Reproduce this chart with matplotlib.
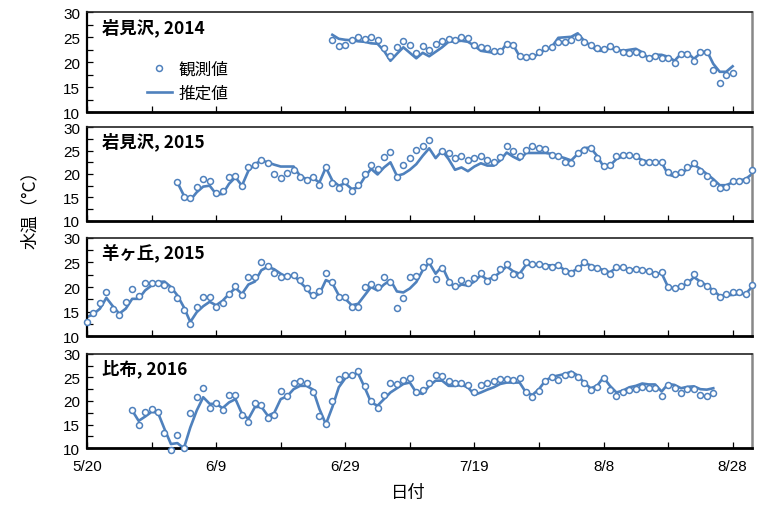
import numpy as np
import matplotlib
matplotlib.use("Agg")
import matplotlib.pyplot as plt
from matplotlib.ticker import MultipleLocator

plt.rcParams["font.family"] = ["Liberation Sans", "Noto Sans CJK JP", "DejaVu Sans"]
JP = ["Noto Sans CJK JP", "DejaVu Sans"]

BLUE = "#4F81BD"

# x axis: days since 5/20
XTICK_LABELS = ["5/20", "6/9", "6/29", "7/19", "8/8", "8/28"]

TITLES = ["岩見沢, 2014", "岩見沢, 2015", "羊ヶ丘, 2015", "比布, 2016"]

# first day (days after 5/20) of each record
START_2014 = 38
START_2015 = 14
START_HITSUJI = 0
START_2016 = 7

OBS_2014 = [24.4, 23.3, 23.5, 24.5, 25.0, 24.7, 25.1, 24.4, 22.9, 21.3,
            23.1, 24.3, 23.5, 21.8, 23.2, 22.5, 23.6, 24.2, 24.6, 24.5,
            25.1, 24.9, 23.5, 23.1, 22.9, 22.3, 22.2, 23.7, 23.5, 21.2,
            21.0, 21.2, 22.1, 22.9, 23.1, 24.1, 24.1, 24.4, 25.0, 24.0,
            23.5, 22.8, 22.7, 23.3, 22.7, 22.1, 21.9, 22.0, 21.7, 20.8,
            21.3, 20.8, 20.8, 19.9, 21.7, 21.6, 20.3, 22.0, 22.1, 18.5,
            15.9, 17.5, 17.8]
EST_2014 = [25.5, 24.7, 24.5, 24.4, 24.2, 24.1, 23.8, 23.7, 22.3, 20.3,
            21.7, 23.0, 21.9, 20.8, 21.9, 21.2, 22.1, 23.0, 24.1, 24.2,
            24.3, 24.1, 23.3, 22.3, 22.1, 21.9, 21.9, 23.8, 23.5, 21.2,
            21.0, 20.9, 21.8, 22.5, 23.1, 24.9, 25.0, 25.1, 25.8, 24.3,
            23.3, 22.3, 22.3, 22.8, 22.5, 22.3, 22.5, 22.7, 22.0, 20.7,
            21.5, 21.5, 21.1, 20.3, 21.7, 21.9, 20.7, 21.8, 22.3, 19.7,
            18.1, 18.1, 19.2]

OBS_2015 = [18.2, 15.0, 14.8, 17.3, 18.9, 18.4, 16.0, 16.3, 19.4, 19.6,
            17.4, 21.6, 22.0, 22.9, 22.3, 20.0, 19.1, 20.3, 20.9, 19.3,
            18.8, 19.4, 17.7, 21.6, 18.1, 17.0, 18.4, 16.4, 17.6, 20.0,
            22.0, 21.0, 23.6, 24.8, 19.4, 22.0, 23.4, 25.1, 26.1, 27.2,
            np.nan, 25.0, 24.5, 23.4, 23.8, 22.9, 23.4, 23.9, 23.1, 22.6,
            23.7, 25.9, 24.9, 23.9, 25.1, 25.9, 25.6, 25.4, 24.1, 23.8,
            22.6, 22.3, 24.4, 25.2, 25.5, 23.5, 21.8, 22.0, 23.9, 24.1,
            24.0, 23.9, 22.6, 22.6, 22.6, 22.6, 20.4, 20.0, 20.4, 21.4,
            22.4, 20.7, 19.6, 18.1, 16.9, 17.3, 18.4, 18.4, 18.7, 20.9]
EST_2015 = [18.2, 15.4, 14.4, 16.1, 17.3, 17.5, 15.7, 15.7, 17.9, 19.3,
            17.5, 20.7, 22.1, 22.9, 22.5, 22.0, 21.6, 21.6, 21.6, 19.6,
            18.9, 19.1, 18.2, 21.4, 18.6, 17.5, 18.0, 16.8, 17.1, 19.3,
            21.1, 19.9, 21.4, 22.5, 19.6, 20.0, 20.9, 22.1, 23.9, 25.5,
            23.4, 25.0, 23.2, 20.9, 21.4, 20.6, 21.6, 22.3, 21.8, 21.8,
            22.9, 24.6, 23.7, 23.0, 24.5, 24.5, 24.5, 24.5, 24.3, 23.8,
            23.4, 22.9, 24.3, 25.6, 25.6, 23.9, 21.6, 21.8, 23.2, 23.8,
            23.9, 23.7, 23.0, 22.6, 22.5, 22.5, 19.9, 19.5, 20.0, 21.1,
            22.0, 21.1, 20.0, 18.9, 17.6, 17.6, 18.2, 18.6, 18.9, 20.0]

OBS_HITSUJI = [13.0, 14.7, 16.8, 18.9, 15.6, 14.3, 17.0, 19.5, 18.2, 20.9,
               20.9, 20.9, 20.5, 19.5, 17.7, 15.4, 12.4, 15.9, 18.0, 18.0,
               15.9, 16.8, 18.6, 20.3, 18.3, 22.0, 22.0, 25.1, 24.2, 22.8,
               22.0, 22.2, 22.5, 21.4, 19.8, 18.3, 19.1, 22.8, 21.0, 18.0,
               18.0, 15.9, 15.9, 19.9, 20.7, 20.0, 22.0, 21.1, 15.8, 17.8,
               22.1, 22.2, 24.1, 25.2, 21.6, 23.9, 21.0, 20.3, 21.4, 20.8,
               21.9, 22.8, 21.2, 22.0, 23.6, 24.7, 22.7, 22.4, 25.1, 24.6,
               24.7, 24.2, 24.1, 24.4, 23.2, 22.8, 23.9, 25.1, 24.1, 23.9,
               23.2, 22.7, 24.1, 24.1, 23.4, 23.7, 23.4, 23.2, 22.7, 23.0,
               20.0, 19.8, 20.3, 21.0, 22.6, 20.8, 20.3, 19.2, 18.0, 18.5,
               18.9, 18.9, 18.5, 20.5]
EST_HITSUJI = [13.9, 14.5, 15.6, 17.8, 16.1, 14.6, 15.6, 17.6, 17.6, 19.3,
               20.3, 21.0, 21.1, 20.0, 18.3, 15.9, 12.9, 14.9, 16.1, 17.0,
               16.3, 17.2, 18.6, 19.8, 18.6, 20.5, 21.1, 23.4, 24.1, 23.6,
               22.7, 22.0, 22.4, 21.0, 19.7, 18.0, 18.6, 21.4, 20.8, 18.3,
               17.6, 16.3, 16.6, 18.3, 20.0, 19.3, 20.5, 21.4, 19.1, 18.9,
               19.7, 21.0, 23.4, 24.9, 22.7, 24.2, 21.4, 19.7, 20.5, 20.3,
               21.1, 22.4, 21.5, 22.0, 23.0, 24.2, 23.2, 22.7, 24.5, 24.5,
               24.5, 24.4, 24.4, 24.4, 23.4, 23.0, 23.7, 24.9, 24.4, 23.9,
               23.4, 23.0, 23.9, 23.9, 23.5, 23.6, 23.4, 23.2, 22.7, 22.8,
               20.0, 19.7, 20.0, 20.7, 22.0, 21.1, 20.3, 19.3, 18.2, 18.3,
               18.4, 18.6, 18.6, 20.0]

OBS_2016 = [18.0, 14.9, 17.7, 18.4, 17.7, 13.2, 9.7, 12.9, 10.0, 17.4,
            20.8, 22.7, 18.5, 19.6, 18.1, 21.2, 21.3, 17.1, 15.5, 19.6,
            19.2, 16.5, 17.1, 22.2, 21.0, 23.7, 24.3, 23.7, 22.0, 16.8,
            15.1, 20.1, 24.7, 25.6, 25.6, 26.4, 23.2, 20.1, 18.5, 21.3,
            23.9, 23.6, 24.5, 24.9, 22.0, 22.4, 23.9, 25.6, 25.3, 24.2,
            23.9, 23.9, 23.3, 22.0, 23.3, 23.7, 24.2, 24.6, 24.6, 24.4,
            24.8, 22.0, 20.8, 22.2, 24.3, 25.1, 24.5, 25.4, 25.8, 25.0,
            23.7, 22.4, 23.0, 24.9, 22.3, 21.1, 21.8, 22.3, 22.5, 23.0,
            22.7, 22.8, 21.1, 23.3, 22.8, 21.6, 22.5, 22.5, 21.3, 21.0,
            21.6]
EST_2016 = [18.0, 15.8, 16.7, 17.7, 17.5, 14.1, 10.9, 11.1, 10.0, 14.4,
            18.0, 20.8, 19.4, 19.4, 18.5, 19.7, 20.4, 17.3, 16.2, 18.7,
            18.8, 16.9, 17.5, 20.4, 21.0, 22.5, 23.2, 23.2, 22.4, 18.3,
            15.1, 18.7, 22.9, 24.8, 25.5, 25.8, 22.9, 19.7, 19.0, 20.4,
            21.8, 22.7, 23.6, 23.9, 21.8, 21.5, 23.2, 24.3, 24.3, 23.2,
            23.2, 23.4, 22.9, 21.3, 21.8, 22.4, 22.9, 23.6, 23.9, 23.9,
            23.9, 21.8, 21.3, 22.5, 24.3, 25.1, 25.4, 25.7, 26.2, 25.4,
            23.9, 22.7, 23.2, 25.0, 23.2, 21.8, 22.2, 22.9, 23.2, 23.7,
            23.5, 23.5, 22.0, 23.6, 23.4, 22.7, 23.0, 23.1, 22.5, 22.4,
            22.7]

PANELS = [
    (START_2014, OBS_2014, EST_2014),
    (START_2015, OBS_2015, EST_2015),
    (START_HITSUJI, OBS_HITSUJI, EST_HITSUJI),
    (START_2016, OBS_2016, EST_2016),
]

W, H = 767, 506
fig = plt.figure(figsize=(W / 100, H / 100), dpi=100)

# (top, bottom) pixel rows of each panel frame
FRAMES = [(13.3, 113.3), (128.3, 221.7), (238.7, 337.3), (354.7, 449.3)]
X0, X1 = 87, 752

axes = []
for i, ((top, bot), (start, obs, est)) in enumerate(zip(FRAMES, PANELS)):
    ax = fig.add_axes([X0 / W, 1 - bot / H, (X1 - X0) / W, (bot - top) / H])
    axes.append(ax)
    days = np.arange(start, start + len(obs))
    ax.plot(days, est, color=BLUE, lw=1.9, zorder=2, label="推定値")
    ax.plot(days, obs, ls="none", marker="o", ms=4.3, mew=1.1,
            markerfacecolor="white", markeredgecolor=BLUE, zorder=3,
            clip_on=False, label="観測値")

    ax.set_xlim(0, 103)
    ax.set_ylim(10, 30)
    ax.yaxis.set_major_locator(MultipleLocator(5))
    ax.yaxis.set_minor_locator(MultipleLocator(2.5))
    ax.xaxis.set_major_locator(MultipleLocator(20))
    ax.xaxis.set_minor_locator(MultipleLocator(10))
    ax.tick_params(which="both", direction="in", length=4, width=0.9,
                   labelsize=11, pad=5)
    ax.tick_params(axis="x", which="both", top=False)
    ax.tick_params(axis="y", which="both", right=False)
    if i == len(PANELS) - 1:
        ax.set_xticklabels([""] + XTICK_LABELS)
        ax.tick_params(axis="x", pad=8)
    else:
        ax.set_xticklabels([])

    ax.spines["left"].set_linewidth(1.6)
    ax.spines["bottom"].set_linewidth(2.0)
    ax.spines["top"].set_linewidth(1.2)
    ax.spines["top"].set_color("#222222")
    ax.spines["right"].set_linewidth(1.8)
    ax.spines["right"].set_color("#888888")

    ax.text(0.022, 0.85, TITLES[i], transform=ax.transAxes,
            fontsize=12.5, fontweight="bold", family=JP,
            ha="left", va="center")

# legend in the first panel
h_est, h_obs = axes[0].get_lines()
axes[0].legend([h_obs, h_est], ["観測値", "推定値"], loc="upper left",
               bbox_to_anchor=(0.077, 0.60), frameon=False, borderpad=0,
               handlelength=1.55, handletextpad=0.35, labelspacing=0.45,
               prop={"family": JP, "size": 12})

fig.text(30 / W, 1 - 206 / H, "水温（°C）", rotation=90, ha="center",
         va="center", fontsize=12.5, family=JP)
fig.text(408 / W, 1 - 493 / H, "日付", ha="center", va="center",
         fontsize=12.5, family=JP)

fig.savefig("out.png", dpi=100, facecolor="white")
